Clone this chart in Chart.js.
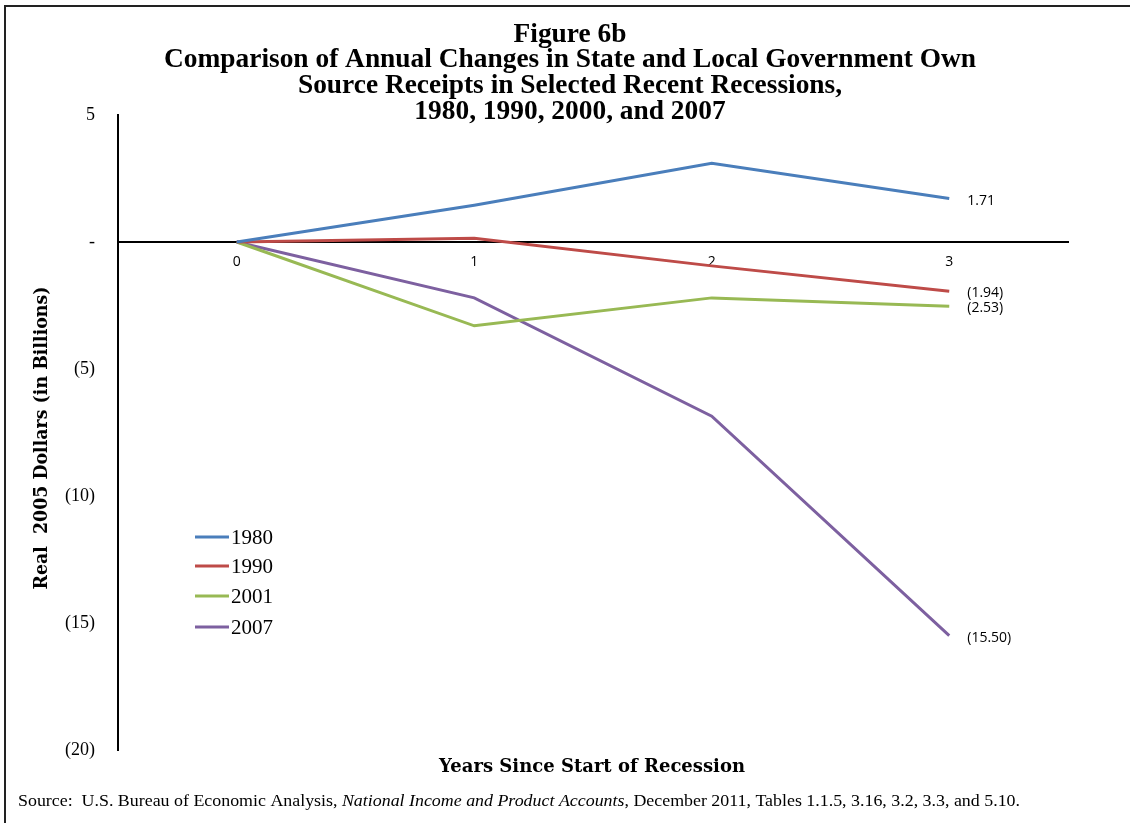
<!DOCTYPE html>
<html>
<head>
<meta charset="utf-8">
<script src="https://cdn.jsdelivr.net/npm/chart.js@4"></script>
<style>
  body { margin: 0; background: #fff; }
  canvas { display: block; }
</style>
</head>
<body>
<canvas id="recessionChart" width="1130" height="823"></canvas>
<script>
// Datos: cambio anual en ingresos propios (miles de millones, dolares 2005)
const years = ['0', '1', '2', '3'];
const seriesNames = ['1980', '1990', '2001', '2007'];
const r1980 = [0, 1.45, 3.10, 1.71];
const r1990 = [0, 0.15, -0.94, -1.94];
const r2001 = [0, -3.30, -2.20, -2.53];
const r2007 = [0, -2.20, -6.86, -15.50];
const yTicks = [5, 0, -5, -10, -15, -20];
const seriesColors = ['#4A7EBB', '#BE4B48', '#98B954', '#7D60A0'];

const titleLines = [
    'Figure 6b',
    'Comparison of Annual Changes in State and Local Government Own',
    'Source Receipts in Selected Recent Recessions,',
    '1980, 1990, 2000, and 2007'
];

function fmtNum(v) {
    if (v === 0) return '-';
    return v < 0 ? '(' + Math.abs(v) + ')' : String(v);
}
function fmtLabel(v) {
    return v < 0 ? '(' + Math.abs(v).toFixed(2) + ')' : v.toFixed(2);
}

// dibuja texto ajustado a un ancho
function fitText(ctx, text, x, y, width, font, align) {
    ctx.save();
    ctx.font = font;
    const w = ctx.measureText(text).width;
    const sx = width / w;
    ctx.translate(x, y);
    ctx.scale(sx, 1);
    ctx.textAlign = align || 'center';
    ctx.fillText(text, 0, 0);
    ctx.restore();
}

const decorPlugin = {
    id: 'decor',
    beforeDraw(chart) {
        const ctx = chart.ctx;
        ctx.save();
        ctx.fillStyle = '#fff';
        ctx.fillRect(0, 0, chart.width, chart.height);
        // marco
        ctx.strokeStyle = '#222';
        ctx.lineWidth = 2;
        ctx.beginPath();
        ctx.moveTo(5, 823);
        ctx.lineTo(5, 6);
        ctx.lineTo(1130, 6);
        ctx.stroke();
        ctx.restore();
    },
    afterDraw(chart) {
        const ctx = chart.ctx;
        ctx.save();
        ctx.fillStyle = '#000';
        ctx.textBaseline = 'middle';

        // titulo
        const tFont = 'bold 27px "Liberation Serif"';
        ctx.font = tFont;
        const sx = 812 / ctx.measureText(titleLines[1]).width;
        const tY = [35, 60, 86, 112];
        titleLines.forEach((line, i) => {
            ctx.font = tFont;
            const w = ctx.measureText(line).width * sx;
            fitText(ctx, line, 570, tY[i], w, tFont);
        });

        // titulos de ejes
        fitText(ctx, 'Years Since Start of Recession', 592, 767, 306, 'bold 18px "DejaVu Serif"');
        ctx.save();
        ctx.translate(42, 438);
        ctx.rotate(-Math.PI / 2);
        fitText(ctx, 'Real  2005 Dollars (in Billions)', 0, 0, 303, 'bold 18px "DejaVu Serif"');
        ctx.restore();

        // fuente
        const sFont = '16px "Liberation Serif"';
        const sItal = 'italic 16px "Liberation Serif"';
        const parts = [
            ['Source:  U.S. Bureau of Economic Analysis, ', sFont],
            ['National Income and Product Accounts', sItal],
            [', December 2011, Tables 1.1.5, 3.16, 3.2, 3.3, and 5.10.', sFont]
        ];
        let total = 0;
        parts.forEach(p => { ctx.font = p[1]; total += ctx.measureText(p[0]).width; });
        const ss = 1002 / total;
        let px = 18;
        parts.forEach(p => {
            ctx.font = p[1];
            const w = ctx.measureText(p[0]).width * ss;
            fitText(ctx, p[0], px, 802, w, p[1], 'left');
            px += w;
        });

        // leyenda
        const legY = [537, 566, 596, 627];
        seriesNames.forEach((name, i) => {
            ctx.strokeStyle = seriesColors[i];
            ctx.lineWidth = 3;
            ctx.beginPath();
            ctx.moveTo(195, legY[i]);
            ctx.lineTo(229, legY[i]);
            ctx.stroke();
            ctx.font = '21px "Liberation Serif"';
            ctx.textAlign = 'left';
            ctx.fillText(name, 231, legY[i] + 1);
        });

        // etiquetas de datos al final
        ctx.font = '14px "Open Sans"';
        ctx.textAlign = 'left';
        chart.data.datasets.forEach((ds, i) => {
            const meta = chart.getDatasetMeta(i);
            const last = meta.data[meta.data.length - 1];
            const v = ds.data[ds.data.length - 1];
            ctx.fillText(fmtLabel(v), last.x + 18, last.y + 2);
        });
        ctx.restore();
    }
};

const allSeries = [r1980, r1990, r2001, r2007];

const recessionChart = new Chart(document.getElementById('recessionChart'), {
    type: 'line',
    data: {
        labels: years,
        datasets: allSeries.map((d, i) => ({
            label: seriesNames[i],
            data: d,
            borderColor: seriesColors[i],
            backgroundColor: seriesColors[i],
            borderWidth: 3,
            pointRadius: 0,
            tension: 0,
            fill: false
        }))
    },
    options: {
        responsive: false,
        animation: false,
        layout: {
            padding: { left: 0, top: 115, right: 62, bottom: 73 }
        },
        plugins: {
            legend: { display: false },
            title: { display: false },
            tooltip: { enabled: false }
        },
        scales: {
            x: {
                type: 'category',
                offset: true,
                position: { y: 0 },
                grid: { display: false, drawTicks: false },
                border: { display: true, color: '#000', width: 2 },
                ticks: {
                    color: '#000',
                    padding: 12,
                    font: { family: '"Open Sans"', size: 14 }
                },
                afterFit(scale) { scale.height = 0; }
            },
            y: {
                min: -20,
                max: 5,
                grid: { display: false, drawTicks: false },
                border: { display: true, color: '#000', width: 2 },
                afterBuildTicks(scale) {
                    scale.ticks = yTicks.map(v => ({ value: v }));
                },
                ticks: {
                    color: '#000',
                    padding: 23,
                    font: { family: '"Liberation Serif"', size: 18 },
                    callback: (v) => fmtNum(v)
                },
                afterFit(scale) { scale.width = 118; }
            }
        }
    },
    plugins: [decorPlugin]
});
</script>
</body>
</html>
